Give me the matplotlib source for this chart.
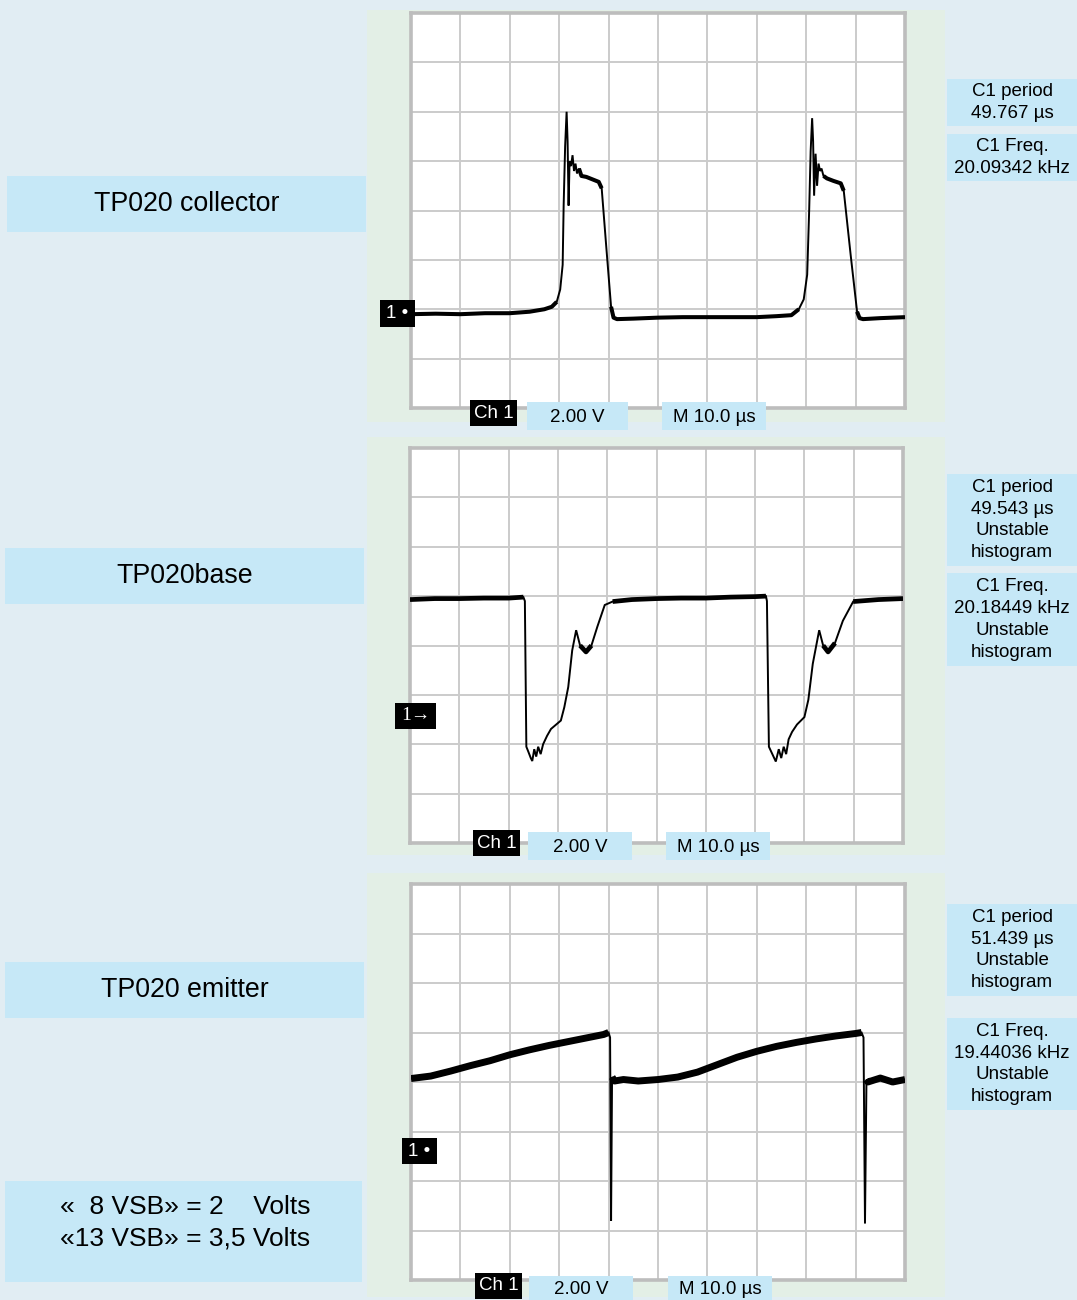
import numpy as np
import matplotlib
matplotlib.use("Agg")
import matplotlib.pyplot as plt
from matplotlib.patches import Rectangle

plt.rcParams["font.family"] = ["Liberation Sans", "DejaVu Sans"]

W, H = 1077, 1300
BG = "#e1edf3"
PANEL = "#e3efe6"
BOX = "#c6e8f7"
GRID = "#cbcbcb"
FRAME = "#bdbdbd"

# ── traces, in screen divisions (x: 0..10, y: 0..8) ──────────────────
COLL_T = [0, 0.5, 1.0, 1.5, 2.0, 2.4, 2.7, 2.85, 2.95, 3.02,
          3.07, 3.09, 3.12, 3.15, 3.17, 3.19, 3.21, 3.24, 3.27, 3.30,
          3.33, 3.36, 3.40, 3.45, 3.55, 3.70, 3.80, 3.86, 3.95, 4.05,
          4.10, 4.17, 4.5, 5.0, 5.5, 6.0, 6.5, 7.0, 7.4, 7.7,
          7.85, 7.95, 8.02, 8.06, 8.09, 8.12, 8.14, 8.16, 8.19, 8.22,
          8.25, 8.28, 8.31, 8.35, 8.42, 8.55, 8.70, 8.76, 8.90, 9.03,
          9.08, 9.15, 9.5, 10.0]
COLL_V = [1.90, 1.91, 1.90, 1.92, 1.92, 1.95, 2.0, 2.05, 2.15, 2.4,
          2.9, 4.1, 5.3, 6.0, 5.4, 4.1, 5.0, 4.9, 5.12, 4.8,
          4.95, 4.75, 4.85, 4.7, 4.68, 4.62, 4.58, 4.45, 3.3, 2.05,
          1.83, 1.80, 1.81, 1.83, 1.84, 1.84, 1.84, 1.84, 1.86, 1.88,
          2.0, 2.2, 2.7, 4.0, 5.2, 5.87, 5.4, 4.3, 5.15, 4.5,
          4.95, 4.8, 4.85, 4.7, 4.65, 4.6, 4.55, 4.4, 3.1, 1.95,
          1.82, 1.80, 1.82, 1.84]

BASE_T = [0, 0.5, 1.0, 1.5, 2.0, 2.3, 2.33, 2.36, 2.40, 2.45,
          2.48, 2.52, 2.56, 2.60, 2.65, 2.70, 2.78, 2.86, 3.06, 3.13,
          3.21, 3.29, 3.37, 3.45, 3.57, 3.68, 3.80, 3.95, 4.11, 4.5,
          5.0, 5.5, 6.0, 6.5, 7.0, 7.22, 7.24, 7.28, 7.35, 7.42,
          7.48, 7.53, 7.58, 7.63, 7.68, 7.75, 7.85, 8.0, 8.08, 8.17,
          8.30, 8.38, 8.48, 8.62, 8.78, 8.99, 9.5, 10.0]
BASE_V = [4.93, 4.95, 4.95, 4.96, 4.96, 4.98, 4.9, 1.95, 1.85, 1.72,
          1.66, 1.9, 1.75, 1.95, 1.8, 2.0, 2.17, 2.31, 2.48, 2.75,
          3.16, 3.9, 4.31, 4.0, 3.87, 4.0, 4.38, 4.82, 4.89, 4.93,
          4.95, 4.96, 4.96, 4.98, 4.99, 5.0, 4.9, 1.95, 1.8, 1.65,
          1.9, 1.72, 1.95, 1.8, 2.1, 2.25, 2.4, 2.55, 2.9, 3.63,
          4.31, 4.0, 3.87, 4.05, 4.5, 4.89, 4.93, 4.95]

EMIT_T = [0, 0.4, 0.8, 1.2, 1.6, 2.0, 2.4, 2.8, 3.2, 3.6,
          3.9, 4.0, 4.03, 4.05, 4.07, 4.12, 4.3, 4.6, 5.0, 5.4,
          5.8, 6.2, 6.6, 7.0, 7.4, 7.8, 8.2, 8.6, 9.0, 9.12,
          9.16, 9.19, 9.22, 9.25, 9.5, 9.75, 10.0]
EMIT_V = [4.07, 4.12, 4.22, 4.33, 4.43, 4.55, 4.65, 4.74, 4.82, 4.9,
          4.96, 5.0, 4.9, 1.2, 4.1, 4.02, 4.05, 4.02, 4.05, 4.1,
          4.2, 4.35, 4.5, 4.62, 4.72, 4.8, 4.87, 4.93, 4.98, 5.0,
          4.9, 1.14, 4.05, 4.0, 4.08, 4.0, 4.05]

# noisy (thick) stretches of each trace, as time ranges
COLL_NOISY = [(0, 2.95), (3.40, 3.86), (4.05, 7.85), (8.35, 8.76), (9.03, 10)]
BASE_NOISY = [(0, 2.3), (3.45, 3.68), (4.11, 7.22), (8.38, 8.62), (8.99, 10)]
EMIT_NOISY = [(0, 4.0), (4.07, 9.12), (9.22, 10)]

TITLES = ["TP020 collector", "TP020base", "TP020 emitter"]
MEAS = [["C1 period\n49.767 µs", "C1 Freq.\n20.09342 kHz"],
        ["C1 period\n49.543 µs\nUnstable\nhistogram",
         "C1 Freq.\n20.18449 kHz\nUnstable\nhistogram"],
        ["C1 period\n51.439 µs\nUnstable\nhistogram",
         "C1 Freq.\n19.44036 kHz\nUnstable\nhistogram"]]
NOTE = "«  8 VSB» = 2    Volts\n«13 VSB» = 3,5 Volts"


def frac(x0, y0, x1, y1):
    return [x0 / W, 1 - y1 / H, (x1 - x0) / W, (y1 - y0) / H]


fig = plt.figure(figsize=(W / 100, H / 100), dpi=100)
fig.patch.set_facecolor(BG)

bg = fig.add_axes([0, 0, 1, 1], zorder=0)
bg.set_xlim(0, W); bg.set_ylim(H, 0); bg.axis("off")
top = fig.add_axes([0, 0, 1, 1], zorder=5)
top.set_xlim(0, W); top.set_ylim(H, 0); top.axis("off")
top.patch.set_alpha(0)


def box(ax, x0, y0, x1, y1, fc, text=None, fs=13.5, color="black", dy=0,
        ls=1.2, **kw):
    ax.add_patch(Rectangle((x0, y0), x1 - x0, y1 - y0, fc=fc, ec="none"))
    if text is not None:
        ax.text((x0 + x1) / 2, (y0 + y1) / 2 + dy, text, ha="center", va="center",
                fontsize=fs, color=color, linespacing=ls, **kw)


# panel layout (pixels): green block, grid, label box, measurement boxes
PANELS = [
    dict(green=(367, 10, 945, 422), grid=(411, 13, 905, 408),
         label=(7, 176, 366, 232), meas=[(947, 79, 1077, 126), (947, 134, 1077, 181)],
         ch=(470, 400, 517, 426), volt=(527, 402, 628, 430), tb=(662, 402, 766, 430),
         mark=(380, 300, 415, 327), mtext="1 •", mserif=False),
    dict(green=(367, 437, 945, 855), grid=(410, 448, 903, 843),
         label=(5, 548, 364, 604), meas=[(947, 474, 1077, 566), (947, 573, 1077, 666)],
         ch=(473, 830, 520, 856), volt=(528, 832, 632, 860), tb=(666, 832, 770, 860),
         mark=(395, 703, 436, 729), mtext="1→", mserif=True),
    dict(green=(367, 873, 945, 1297), grid=(411, 884, 905, 1280),
         label=(5, 962, 364, 1018), meas=[(947, 904, 1077, 996), (947, 1018, 1077, 1110)],
         ch=(475, 1273, 522, 1299), volt=(529, 1276, 633, 1300), tb=(668, 1276, 772, 1300),
         mark=(402, 1138, 437, 1164), mtext="1 •", mserif=False),
]
TRACES = [(COLL_T, COLL_V, COLL_NOISY), (BASE_T, BASE_V, BASE_NOISY),
          (EMIT_T, EMIT_V, EMIT_NOISY)]
NOISE_LW = [2.9, 3.4, 5.0]

for i, p in enumerate(PANELS):
    box(bg, *p["green"], PANEL)
    box(bg, *p["label"], BOX, TITLES[i], fs=19.3)
    for r, txt in zip(p["meas"], MEAS[i]):
        box(bg, *r, BOX, txt, fs=13.5, ls=1.37)

    ax = fig.add_axes(frac(*p["grid"]), zorder=2)
    ax.set_facecolor("white")
    ax.set_xlim(0, 10); ax.set_ylim(0, 8)
    for k in range(1, 10):
        ax.axvline(k, color=GRID, lw=1.4, zorder=1)
    for k in range(1, 8):
        ax.axhline(k, color=GRID, lw=1.4, zorder=1)
    ax.set_xticks([]); ax.set_yticks([])
    for s in ax.spines.values():
        s.set_color(FRAME); s.set_linewidth(2.6)

    t, v, noisy = TRACES[i]
    t = np.array(t); v = np.array(v)
    ax.plot(t, v, color="black", lw=1.4, zorder=3, solid_joinstyle="miter")
    for a, b in noisy:
        m = (t >= a) & (t <= b)
        ax.plot(t[m], v[m], color="black", lw=NOISE_LW[i], zorder=3,
                solid_capstyle="butt")

    box(top, *p["ch"], "black", "Ch 1", fs=13.5, color="white")
    box(top, *p["volt"], BOX, "2.00 V", fs=13.5, dy=2)
    box(top, *p["tb"], BOX, "M 10.0 µs", fs=13.5, dy=2)
    if p["mserif"]:
        box(top, *p["mark"], "black", p["mtext"], fs=14, color="white",
            family=["Liberation Serif", "DejaVu Serif"])
    else:
        box(top, *p["mark"], "black", p["mtext"], fs=13.5, color="white")

box(bg, 5, 1181, 362, 1282, BOX)
bg.text(60, 1223, NOTE, ha="left", va="center", fontsize=19, linespacing=1.37)

fig.savefig("out.png", dpi=100, facecolor=BG)
